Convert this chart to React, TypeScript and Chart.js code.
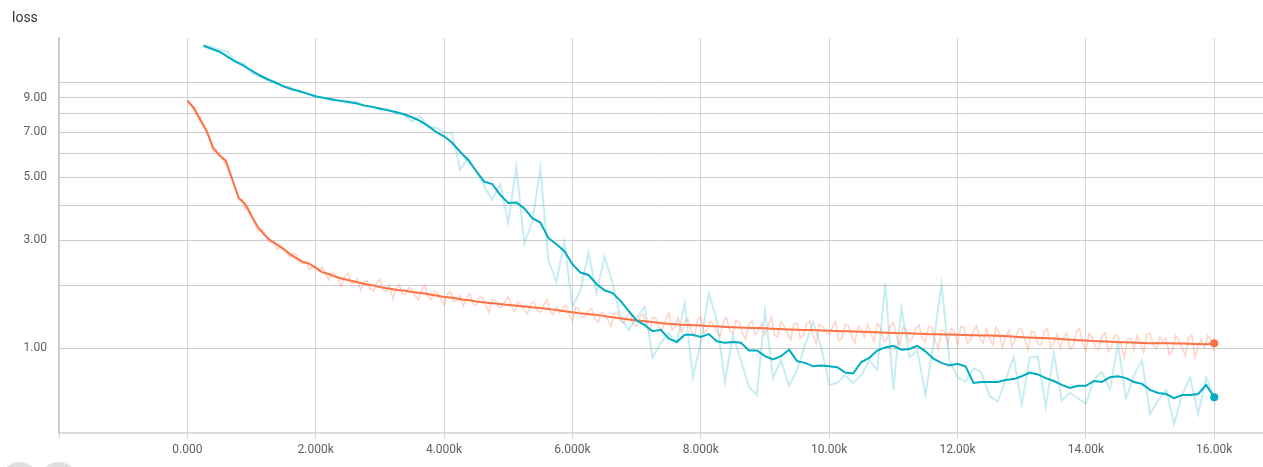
import React, { useEffect, useRef } from "react";
import { Chart, registerables } from "chart.js";

Chart.register(...registerables);

// ---- data -------------------------------------------------------------
const TEAL_FIRST_STEP = 250;
const TEAL_STEP_INTERVAL = 125;
const ORANGE_FIRST_STEP = 0;
const ORANGE_STEP_INTERVAL = 100;
const ORANGE_RAW_STEP_INTERVAL = 50;

const tealSmoothed = [
  12.95, 12.68, 12.42, 12.0, 11.59, 11.27, 10.88, 10.54, 10.25, 10.0,
  9.75, 9.55, 9.41, 9.24, 9.08, 8.98, 8.89, 8.79, 8.73, 8.64,
  8.51, 8.42, 8.32, 8.21, 8.11, 7.98, 7.81, 7.61, 7.34, 7.02,
  6.8, 6.48, 6.06, 5.7, 5.24, 4.83, 4.74, 4.35, 4.08, 4.1,
  3.91, 3.61, 3.48, 3.06, 2.9, 2.73, 2.43, 2.25, 2.2, 2.02,
  1.9, 1.85, 1.71, 1.54, 1.39, 1.32, 1.23, 1.25, 1.13, 1.08,
  1.18, 1.18, 1.15, 1.19, 1.09, 1.07, 1.08, 1.07, 0.97, 0.97,
  0.9, 0.86, 0.9, 0.98, 0.84, 0.82, 0.78, 0.79, 0.78, 0.77,
  0.71, 0.7, 0.83, 0.88, 0.97, 1.01, 1.03, 0.98, 0.99, 1.03,
  0.96, 0.87, 0.82, 0.79, 0.81, 0.78, 0.6, 0.61, 0.61, 0.61,
  0.63, 0.64, 0.67, 0.71, 0.69, 0.65, 0.62, 0.58, 0.55, 0.57,
  0.57, 0.62, 0.61, 0.66, 0.67, 0.65, 0.61, 0.59, 0.53, 0.5,
  0.49, 0.45, 0.48, 0.48, 0.49, 0.58, 0.46,
];

const tealRaw = [
  12.95, 12.86, 12.6, 12.45, 11.59, 11.48, 10.73, 10.43, 10.21, 10.07,
  9.72, 9.65, 9.38, 9.31, 9.0, 9.0, 8.79, 8.86, 8.61, 8.73,
  8.48, 8.48, 8.24, 8.3, 8.0, 8.0, 7.57, 7.89, 7.29, 7.24,
  7.0, 6.97, 5.28, 5.79, 5.22, 4.67, 4.18, 4.74, 3.47, 5.42,
  2.93, 3.5, 5.37, 2.52, 2.06, 2.96, 1.61, 1.9, 2.69, 1.85,
  2.6, 2.04, 1.43, 1.25, 1.43, 1.61, 0.88, 1.07, 1.2, 1.07,
  1.67, 0.66, 1.07, 1.85, 1.39, 0.61, 1.17, 0.85, 0.56, 0.48,
  1.55, 0.65, 0.85, 0.57, 0.74, 1.04, 1.37, 1.02, 0.58, 0.6,
  0.68, 0.6, 0.68, 0.85, 0.74, 2.04, 0.53, 1.59, 0.89, 0.97,
  0.48, 1.06, 2.02, 0.85, 0.66, 0.61, 0.76, 0.71, 0.47, 0.42,
  0.63, 0.89, 0.39, 0.88, 0.9, 0.37, 0.94, 0.43, 0.5, 0.45,
  0.4, 0.63, 0.72, 0.53, 1.06, 0.45, 0.68, 0.85, 0.31, 0.43,
  0.53, 0.23, 0.48, 0.66, 0.31, 0.66, 0.46,
];

const orangeSmoothed = [
  8.8, 8.37, 7.67, 7.07, 6.25, 5.9, 5.66, 4.91, 4.25, 4.05,
  3.67, 3.35, 3.14, 2.99, 2.89, 2.78, 2.66, 2.56, 2.48, 2.44,
  2.35, 2.26, 2.22, 2.17, 2.13, 2.1, 2.07, 2.04, 2.01, 1.99,
  1.96, 1.94, 1.92, 1.9, 1.89, 1.87, 1.855, 1.84, 1.82, 1.8,
  1.78, 1.77, 1.75, 1.73, 1.72, 1.7, 1.686, 1.674, 1.664, 1.652,
  1.641, 1.631, 1.619, 1.609, 1.597, 1.587, 1.576, 1.562, 1.546, 1.53,
  1.518, 1.505, 1.495, 1.484, 1.473, 1.457, 1.442, 1.429, 1.415, 1.401,
  1.389, 1.38, 1.37, 1.36, 1.349, 1.341, 1.334, 1.326, 1.322, 1.319,
  1.314, 1.306, 1.301, 1.297, 1.292, 1.289, 1.285, 1.282, 1.278, 1.275,
  1.272, 1.267, 1.263, 1.26, 1.256, 1.253, 1.249, 1.246, 1.243, 1.24,
  1.237, 1.233, 1.231, 1.228, 1.225, 1.222, 1.218, 1.215, 1.212, 1.21,
  1.206, 1.203, 1.2, 1.197, 1.194, 1.191, 1.188, 1.188, 1.185, 1.182,
  1.18, 1.177, 1.174, 1.174, 1.171, 1.168, 1.166, 1.163, 1.158, 1.152,
  1.147, 1.143, 1.139, 1.136, 1.133, 1.129, 1.122, 1.115, 1.11, 1.106,
  1.102, 1.096, 1.092, 1.088, 1.083, 1.079, 1.076, 1.073, 1.071, 1.068,
  1.065, 1.065, 1.064, 1.063, 1.061, 1.06, 1.059, 1.056, 1.053, 1.052, 1.065,
];

const orangeRaw = [
  8.86, 8.55, 8.25, 7.95, 7.84, 7.4, 7.02, 6.7, 6.06, 6.05,
  5.99, 5.7, 5.53, 5.2, 4.95, 4.55, 4.18, 4.2, 3.89, 3.95,
  3.73, 3.45, 3.24, 3.3, 3.22, 3.02, 2.94, 2.97, 2.77, 2.86,
  2.8, 2.68, 2.59, 2.66, 2.65, 2.47, 2.44, 2.49, 2.31, 2.38,
  2.39, 2.27, 2.37, 2.22, 2.1, 2.24, 2.23, 2.09, 1.97, 2.17,
  2.24, 2.04, 2.03, 2.11, 1.9, 2.06, 2.09, 1.93, 1.89, 2.04,
  2.11, 1.9, 1.88, 2.0, 1.75, 1.93, 2.01, 1.84, 1.82, 1.95,
  1.91, 1.8, 1.73, 1.9, 2.0, 1.78, 1.73, 1.88, 1.85, 1.74,
  1.64, 1.83, 1.88, 1.7, 1.71, 1.8, 1.62, 1.76, 1.84, 1.66,
  1.63, 1.78, 1.77, 1.62, 1.52, 1.74, 1.72, 1.6, 1.6, 1.7,
  1.78, 1.62, 1.53, 1.69, 1.65, 1.56, 1.49, 1.66, 1.7, 1.55,
  1.52, 1.63, 1.73, 1.54, 1.48, 1.61, 1.51, 1.58, 1.64, 1.47,
  1.39, 1.6, 1.57, 1.44, 1.45, 1.55, 1.58, 1.42, 1.36, 1.52,
  1.49, 1.4, 1.3, 1.5, 1.51, 1.38, 1.35, 1.47, 1.52, 1.34,
  1.3, 1.45, 1.49, 1.32, 1.22, 1.44, 1.42, 1.28, 1.26, 1.4,
  1.51, 1.25, 1.29, 1.43, 1.21, 1.37, 1.41, 1.24, 1.14, 1.4,
  1.45, 1.2, 1.25, 1.38, 1.33, 1.22, 1.16, 1.37, 1.44, 1.24,
  1.19, 1.4, 1.36, 1.2, 1.12, 1.33, 1.39, 1.18, 1.25, 1.35,
  1.18, 1.31, 1.44, 1.17, 1.15, 1.37, 1.3, 1.2, 1.11, 1.33,
  1.35, 1.13, 1.18, 1.34, 1.38, 1.17, 1.06, 1.33, 1.3, 1.21,
  1.19, 1.29, 1.38, 1.1, 1.13, 1.33, 1.31, 1.16, 1.07, 1.3,
  1.25, 1.14, 1.33, 1.21, 1.09, 1.34, 1.28, 1.09, 1.12, 1.3,
  1.36, 1.16, 1.03, 1.29, 1.26, 1.08, 1.14, 1.27, 1.32, 1.13,
  1.08, 1.3, 1.29, 1.1, 0.99, 1.25, 1.23, 1.06, 1.27, 1.22,
  1.04, 1.3, 1.29, 1.06, 1.1, 1.24, 1.31, 1.12, 1.07, 1.27,
  1.13, 1.04, 1.29, 1.2, 1.01, 1.15, 1.24, 1.02, 1.12, 1.26,
  1.26, 1.1, 0.98, 1.23, 1.21, 1.06, 1.04, 1.22, 1.27, 1.0,
  1.07, 1.19, 1.0, 1.13, 1.21, 0.99, 1.03, 1.22, 1.27, 1.06,
  0.97, 1.2, 1.14, 1.01, 0.98, 1.15, 1.21, 0.96, 1.02, 1.18,
  1.16, 1.03, 0.88, 1.12, 1.13, 0.98, 1.17, 1.06, 0.95, 1.19,
  1.2, 1.04, 0.99, 1.15, 1.09, 1.13, 0.92, 0.97, 1.17, 1.1,
  1.01, 0.9, 1.14, 1.18, 0.88, 1.03, 1.12, 1.0, 1.17, 1.1,
  0.96,
];

const yGridValues = [1, 2, 3, 4, 5, 6, 7, 8, 9, 10];
const yLabeledValues = [1, 3, 5, 7, 9];
const xTickValues = [-2000, 0, 2000, 4000, 6000, 8000, 10000, 12000, 14000, 16000];

const X_MIN = -2000;
const X_MAX = 16760;
const Y_MIN = 0.16;
const Y_MAX = 13.66;

const ORANGE = "#ff7043";
const TEAL = "#00acc1";
const ORANGE_FADED = "rgba(255,112,67,0.3)";
const TEAL_FADED = "rgba(0,172,193,0.22)";

// ---- helpers ----------------------------------------------------------
// TensorBoard-like modified log axis: position ~ log10(value + 1)
const toScale = (v: number) => Math.log10(v + 1);
const fromScale = (t: number) => Math.pow(10, t) - 1;

const stepsFor = (first: number, interval: number, n: number) =>
  Array.from({ length: n }, (_, i) => first + interval * i);

const toPoints = (steps: number[], values: number[]) =>
  values.map((v, i) => ({ x: steps[i], y: toScale(v) }));

function formatStep(v: number): string {
  if (v < 0) return "";
  if (v === 0) return "0.000";
  const k = v / 1000;
  return (k >= 10 ? k.toFixed(2) : k.toFixed(3)) + "k";
}

const lastDot = (n: number) => (ctx: any) => (ctx.dataIndex === n - 1 ? 4 : 0);

const FONT = { family: "Roboto, 'Noto Sans', sans-serif", size: 12 };

export default function App() {
  const canvasRef = useRef<HTMLCanvasElement | null>(null);

  useEffect(() => {
    if (!canvasRef.current) return;
    const tealSteps = stepsFor(TEAL_FIRST_STEP, TEAL_STEP_INTERVAL, tealSmoothed.length);
    const orangeSteps = stepsFor(ORANGE_FIRST_STEP, ORANGE_STEP_INTERVAL, orangeSmoothed.length);
    const orangeRawSteps = stepsFor(ORANGE_FIRST_STEP, ORANGE_RAW_STEP_INTERVAL, orangeRaw.length);

    const chart = new Chart(canvasRef.current, {
      type: "line",
      data: {
        datasets: [
          {
            label: "teal",
            data: toPoints(tealSteps, tealSmoothed),
            borderColor: TEAL,
            backgroundColor: TEAL,
            borderWidth: 2,
            pointRadius: lastDot(tealSmoothed.length),
            pointBorderWidth: 0,
            pointBackgroundColor: TEAL,
            tension: 0,
          },
          {
            label: "orange",
            data: toPoints(orangeSteps, orangeSmoothed),
            borderColor: ORANGE,
            backgroundColor: ORANGE,
            borderWidth: 2,
            pointRadius: lastDot(orangeSmoothed.length),
            pointBorderWidth: 0,
            pointBackgroundColor: ORANGE,
            tension: 0,
          },
          {
            label: "teal raw",
            data: toPoints(tealSteps, tealRaw),
            borderColor: TEAL_FADED,
            borderWidth: 2,
            pointRadius: 0,
            tension: 0,
          },
          {
            label: "orange raw",
            data: toPoints(orangeRawSteps, orangeRaw),
            borderColor: ORANGE_FADED,
            borderWidth: 1.5,
            pointRadius: 0,
            tension: 0,
          },
        ],
      },
      options: {
        responsive: false,
        animation: false,
        events: [],
        layout: { autoPadding: false, padding: { top: 38, left: 0, right: 0, bottom: 0 } },
        plugins: {
          legend: { display: false },
          tooltip: { enabled: false },
          title: { display: false },
        },
        scales: {
          x: {
            type: "linear",
            min: X_MIN,
            max: X_MAX,
            afterBuildTicks: (s: any) => {
              s.ticks = xTickValues.map((v) => ({ value: v }));
            },
            afterFit: (s: any) => {
              s.height = 34;
            },
            ticks: {
              autoSkip: false,
              maxRotation: 0,
              padding: 4,
              color: "#616161",
              font: FONT,
              callback: (v: any) => formatStep(Number(v)),
            },
            grid: {
              color: "#d6d6d6",
              lineWidth: 1,
              drawTicks: true,
              tickLength: 6,
              tickColor: "#d6d6d6",
            },
            border: { display: true, color: "#dddddd", width: 2 },
          },
          y: {
            type: "linear",
            min: toScale(Y_MIN),
            max: toScale(Y_MAX),
            afterBuildTicks: (s: any) => {
              s.ticks = yGridValues.map((v) => ({ value: toScale(v) }));
            },
            afterFit: (s: any) => {
              s.width = 59;
            },
            ticks: {
              autoSkip: false,
              padding: 12,
              color: "#616161",
              font: FONT,
              callback: (t: any) => {
                const v = Math.round(fromScale(Number(t)));
                return yLabeledValues.includes(v) ? v.toFixed(2) : "";
              },
            },
            grid: { color: "#cdcdcd", lineWidth: 1, drawTicks: false },
            border: { display: true, color: "#cccccc", width: 2 },
          },
        },
      },
    } as any);

    return () => chart.destroy();
  }, []);

  return (
    <div
      style={{
        position: "absolute",
        left: 0,
        top: 0,
        width: 1263,
        height: 467,
        background: "#ffffff",
        overflow: "hidden",
      }}
    >
      <canvas
        ref={canvasRef}
        width={1263}
        height={467}
        style={{ position: "absolute", left: 0, top: 0, width: 1263, height: 467 }}
      />
      <div
        style={{
          position: "absolute",
          left: 12,
          top: 9,
          fontFamily: "Roboto, 'Noto Sans', sans-serif",
          fontSize: 14,
          lineHeight: "16px",
          color: "#333333",
        }}
      >
        loss
      </div>
      <div
        style={{
          position: "absolute",
          left: 0,
          top: 462,
          width: 39,
          height: 39,
          borderRadius: "50%",
          background: "#e0e0e0",
        }}
      />
      <div
        style={{
          position: "absolute",
          left: 39,
          top: 462,
          width: 39,
          height: 39,
          borderRadius: "50%",
          background: "#e0e0e0",
        }}
      />
    </div>
  );
}
